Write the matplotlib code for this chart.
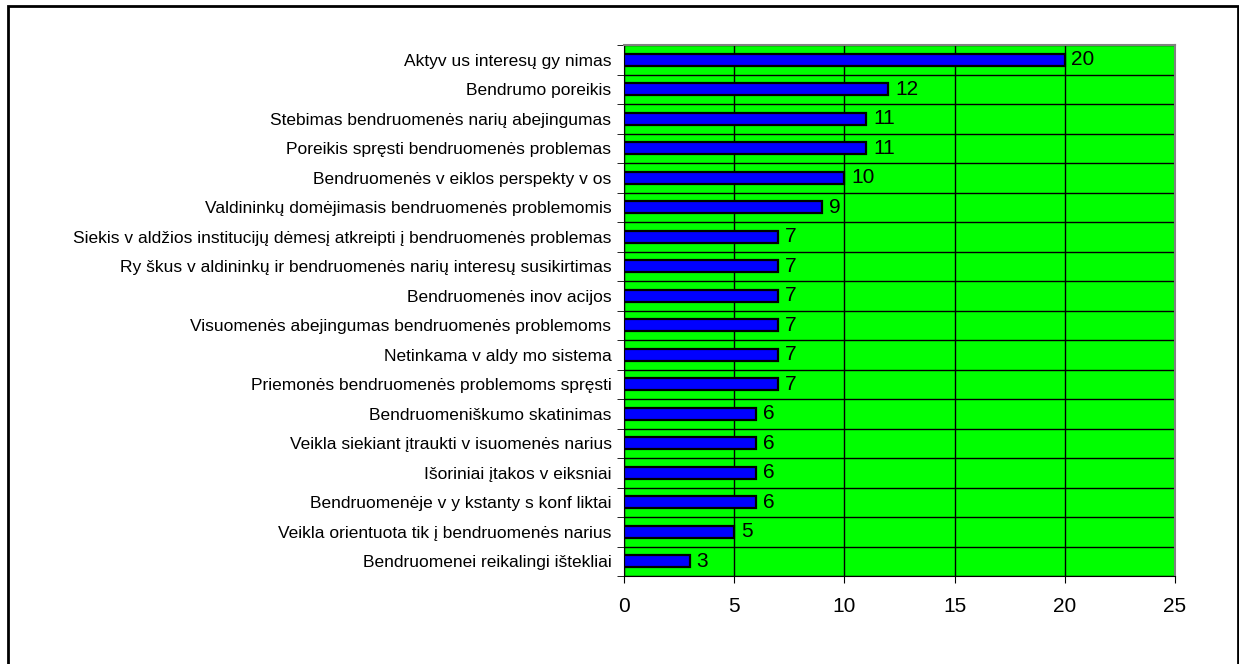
import matplotlib
matplotlib.use('Agg')
import matplotlib.pyplot as plt
from matplotlib.patches import Rectangle

plt.rcParams['font.family'] = ['Liberation Sans', 'DejaVu Sans']

labels = [
    'Aktyv us interesų gy nimas',
    'Bendrumo poreikis',
    'Stebimas bendruomenės narių abejingumas',
    'Poreikis spręsti bendruomenės problemas',
    'Bendruomenės v eiklos perspekty v os',
    'Valdininkų domėjimasis bendruomenės problemomis',
    'Siekis v aldžios institucijų dėmesį atkreipti į bendruomenės problemas',
    'Ry škus v aldininkų ir bendruomenės narių interesų susikirtimas',
    'Bendruomenės inov acijos',
    'Visuomenės abejingumas bendruomenės problemoms',
    'Netinkama v aldy mo sistema',
    'Priemonės bendruomenės problemoms spręsti',
    'Bendruomeniškumo skatinimas',
    'Veikla siekiant įtraukti v isuomenės narius',
    'Išoriniai įtakos v eiksniai',
    'Bendruomenėje v y kstanty s konf liktai',
    'Veikla orientuota tik į bendruomenės narius',
    'Bendruomenei reikalingi ištekliai',
]
values = [20, 12, 11, 11, 10, 9, 7, 7, 7, 7, 7, 7, 6, 6, 6, 6, 5, 3]
xticks = [0, 5, 10, 15, 20, 25]

fig = plt.figure(figsize=(12.39, 6.64), dpi=100)
ax = fig.add_axes([624/1239, 1-576/664, (1175-624)/1239, (576-45)/664])
ax.set_facecolor('#00FF00')

n = len(values)
ypos = list(range(n))
ax.barh(ypos, values, height=0.42, color='#0000FF', edgecolor='black', linewidth=1.6, zorder=3)
for y, v in zip(ypos, values):
    ax.text(v + 0.3, y, str(v), va='center', ha='left', fontsize=15, zorder=4)

ax.set_xlim(0, 25)
ax.set_ylim(n - 0.5, -0.5)
ax.set_xticks(xticks)
ax.set_xticklabels([str(t) for t in xticks], fontsize=15)
ax.set_yticks(ypos)
ax.set_yticklabels(labels, fontsize=12.5)
ax.tick_params(axis='y', length=0, pad=9)
ax.tick_params(axis='x', length=5, pad=10)
# boundary ticks and gridlines
ax.set_yticks([i - 0.5 for i in range(n + 1)], minor=True)
ax.tick_params(axis='y', which='minor', length=5)
ax.grid(axis='y', which='minor', color='black', linewidth=1, zorder=1)
ax.grid(axis='x', which='major', color='black', linewidth=1, zorder=1)

for s in ['top', 'right']:
    ax.spines[s].set_color('#808080')
    ax.spines[s].set_linewidth(1.5)
ax.spines['left'].set_color('black')
ax.spines['bottom'].set_color('black')

border = Rectangle((8/1239, -0.1), (1238-8)/1239, 1.1 - 6/664, transform=fig.transFigure,
                   fill=False, edgecolor='black', linewidth=2)
fig.patches.append(border)

fig.savefig('out.png', dpi=100)
